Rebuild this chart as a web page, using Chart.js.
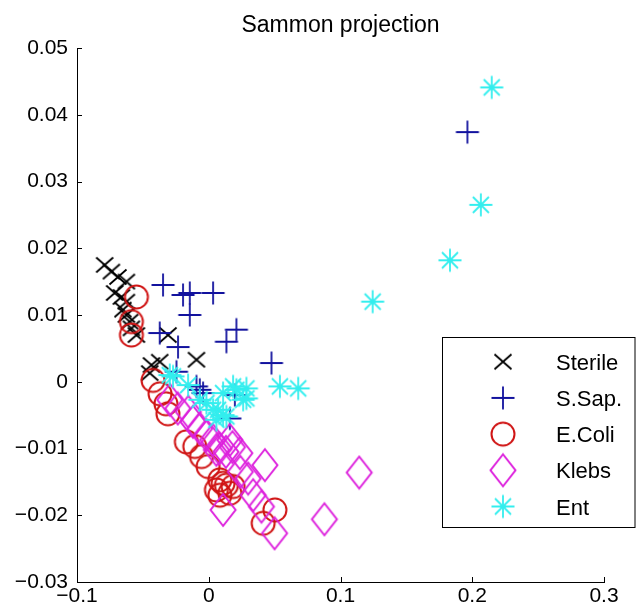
<!DOCTYPE html>
<html lang="en">
<head>
    <meta charset="UTF-8">
    <title>Sammon projection</title>
    <script src="https://cdn.jsdelivr.net/npm/chart.js@4.4.0/dist/chart.umd.min.js"></script>
    <style>
        body {
            margin: 0;
            background-color: #ffffff;
        }
        #chart {
            display: block;
        }
    </style>
</head>
<body>

<canvas id="chart" width="637" height="613"></canvas>

<script>
    // Series values
    var sterileX = [-0.0790, -0.0739, -0.0689, -0.0625, -0.0714, -0.0663, -0.0625, -0.0651, -0.0625, -0.0600, -0.0587, -0.0549, -0.0309, -0.0435, -0.0372, -0.0093, -0.0448];
    var sterileY = [0.0175, 0.0165, 0.0157, 0.0150, 0.0133, 0.0127, 0.0120, 0.0108, 0.0100, 0.0090, 0.0080, 0.0070, 0.0070, 0.0025, 0.0030, 0.0033, 0.0013];

    var ssapX = [-0.0347, -0.0195, -0.0144, 0.0033, -0.0144, -0.0372, -0.0233, 0.0210, 0.0134, 0.0476, -0.0245, -0.0068, -0.0043, 0.0198, 0.0160, -0.0093, 0.1963];
    var ssapY = [0.0145, 0.0130, 0.0133, 0.0133, 0.0100, 0.0073, 0.0052, 0.0078, 0.0060, 0.0028, 0.0015, -0.0012, -0.0017, -0.0020, -0.0055, -0.0007, 0.0374];

    var ecoliX = [-0.0549, -0.0587, -0.0587, -0.0423, -0.0370, -0.0325, -0.0310, -0.0170, -0.0106, -0.0055, -0.0005, 0.0084, 0.0058, 0.0134, 0.0185, 0.0084, 0.0160, 0.0109, 0.0502, 0.0413];
    var ecoliY = [0.0127, 0.0090, 0.0070, 0.0002, -0.0018, -0.0033, -0.0048, -0.0090, -0.0097, -0.0112, -0.0127, -0.0147, -0.0162, -0.0155, -0.0157, -0.0170, -0.0167, -0.0152, -0.0192, -0.0212];

    var klebsX = [-0.0296, -0.0235, -0.0155, -0.0120, -0.0068, -0.0018, 0.0030, 0.0058, 0.0080, 0.0130, 0.0160, 0.0180, 0.0236, 0.0240, 0.0299, 0.0337, 0.0400, 0.0500, 0.0109, 0.0426, 0.0878, 0.1142];
    var klebsY = [-0.0027, -0.0040, -0.0045, -0.0060, -0.0070, -0.0080, -0.0087, -0.0102, -0.0100, -0.0105, -0.0087, -0.0098, -0.0107, -0.0135, -0.0145, -0.0170, -0.0187, -0.0227, -0.0192, -0.0125, -0.0206, -0.0136];

    var entX = [0.2148, 0.2065, 0.1831, 0.1244, 0.0540, 0.0679, 0.0185, 0.0286, 0.0286, 0.0109, -0.0271, -0.0296, -0.0157, -0.0018, -0.0068, 0.0071, 0.0033, 0.0109, 0.0058, 0.0134, 0.0210, 0.0261];
    var entY = [0.0441, 0.0265, 0.0182, 0.0120, -0.0007, -0.0010, -0.0007, -0.0010, -0.0025, -0.0017, 0.0008, 0.0010, -0.0005, -0.0032, -0.0027, -0.0042, -0.0042, -0.0050, -0.0057, -0.0052, -0.0012, -0.0027];

    var seriesNames = ['Sterile', 'S.Sap.', 'E.Coli', 'Klebs', 'Ent'];

    var FONT = "'Liberation Sans', Arial, Helvetica, sans-serif";

    function toPoints(xs, ys) {
        return xs.map(function(x, i) { return {x: x, y: ys[i]}; });
    }

    // Small canvases used as point styles (and again in the legend)
    function makeMarker(type, color) {
        var c = document.createElement('canvas');
        var w = 30, h = 36;
        c.width = w;
        c.height = h;
        var g = c.getContext('2d');
        g.translate(w / 2, h / 2);
        g.strokeStyle = color;
        g.lineWidth = 1.8;
        g.beginPath();
        if (type === 'x') {
            g.moveTo(-8.5, -7.5); g.lineTo(8.5, 7.5);
            g.moveTo(-8.5, 7.5); g.lineTo(8.5, -7.5);
        } else if (type === 'plus') {
            g.moveTo(-11.5, 0); g.lineTo(11.5, 0);
            g.moveTo(0, -11.5); g.lineTo(0, 11.5);
        } else if (type === 'circle') {
            g.lineWidth = 2;
            g.arc(0, 0, 11.5, 0, Math.PI * 2);
        } else if (type === 'diamond') {
            g.lineWidth = 2;
            g.moveTo(0, -16); g.lineTo(12.5, 0); g.lineTo(0, 16); g.lineTo(-12.5, 0);
            g.closePath();
        } else if (type === 'star') {
            g.moveTo(-11.5, 0); g.lineTo(11.5, 0);
            g.moveTo(0, -11.5); g.lineTo(0, 11.5);
            g.moveTo(-8, -8); g.lineTo(8, 8);
            g.moveTo(-8, 8); g.lineTo(8, -8);
        }
        g.stroke();
        return c;
    }

    var markers = [
        makeMarker('x', '#000000'),
        makeMarker('plus', '#12129e'),
        makeMarker('circle', '#d01414'),
        makeMarker('diamond', '#dd22dd'),
        makeMarker('star', '#33eeee')
    ];

    function fmt(v, digits) {
        var r = Number(v.toFixed(digits));
        if (r === 0) return '0';
        return String(r).replace('-', '\u2212');
    }

    // Title, inward tick marks and the boxed legend
    var matlabLook = {
        id: 'matlabLook',
        afterDraw: function(chart) {
            var ctx = chart.ctx;
            var xs = chart.scales.x, ys = chart.scales.y;
            var area = chart.chartArea;
            ctx.save();

            ctx.strokeStyle = '#000';
            ctx.lineWidth = 1;
            ctx.beginPath();
            ys.ticks.forEach(function(t) {
                var py = Math.round(ys.getPixelForValue(t.value)) + 0.5;
                ctx.moveTo(area.left, py);
                ctx.lineTo(area.left + 5, py);
            });
            xs.ticks.forEach(function(t) {
                var px = Math.round(xs.getPixelForValue(t.value)) + 0.5;
                ctx.moveTo(px, area.bottom);
                ctx.lineTo(px, area.bottom - 5);
            });
            ctx.stroke();

            ctx.fillStyle = '#000';
            ctx.font = '23px ' + FONT;
            ctx.textAlign = 'center';
            ctx.textBaseline = 'alphabetic';
            ctx.fillText('Sammon projection', (area.left + area.right) / 2, 32);

            // legend
            ctx.fillStyle = '#fff';
            ctx.fillRect(442.5, 337.5, 192.5, 190);
            ctx.strokeStyle = '#000';
            ctx.strokeRect(442.5, 337.5, 192.5, 190);
            ctx.font = '22px ' + FONT;
            ctx.textAlign = 'left';
            ctx.fillStyle = '#000';
            seriesNames.forEach(function(name, i) {
                var cy = 361.7 + i * 36.2;
                var m = markers[i];
                ctx.drawImage(m, 503 - m.width / 2, cy - m.height / 2);
                ctx.fillText(name, 556, cy + 8);
            });
            ctx.restore();
        }
    };

    var ctx = document.getElementById('chart').getContext('2d');
    var chart = new Chart(ctx, {
        type: 'scatter',
        data: {
            datasets: [
                {label: seriesNames[0], data: toPoints(sterileX, sterileY), pointStyle: markers[0], order: 5},
                {label: seriesNames[1], data: toPoints(ssapX, ssapY), pointStyle: markers[1], order: 4},
                {label: seriesNames[2], data: toPoints(ecoliX, ecoliY), pointStyle: markers[2], order: 3},
                {label: seriesNames[3], data: toPoints(klebsX, klebsY), pointStyle: markers[3], order: 2},
                {label: seriesNames[4], data: toPoints(entX, entY), pointStyle: markers[4], order: 1}
            ]
        },
        options: {
            responsive: false,
            animation: false,
            devicePixelRatio: 1,
            layout: {
                padding: {top: 48, right: 33, left: 0, bottom: 0}
            },
            plugins: {
                legend: {display: false},
                tooltip: {enabled: false}
            },
            scales: {
                x: {
                    type: 'linear',
                    min: -0.1,
                    max: 0.3,
                    grid: {display: false, drawTicks: false},
                    border: {display: true, color: '#000', width: 1},
                    ticks: {
                        stepSize: 0.1,
                        padding: 2,
                        color: '#000',
                        font: {family: FONT, size: 21},
                        maxRotation: 0,
                        callback: function(v) { return fmt(v, 1); }
                    },
                    afterFit: function(scale) { scale.height = 31; }
                },
                y: {
                    type: 'linear',
                    min: -0.03,
                    max: 0.05,
                    grid: {display: false, drawTicks: false},
                    border: {display: true, color: '#000', width: 1},
                    ticks: {
                        stepSize: 0.01,
                        padding: 9,
                        color: '#000',
                        font: {family: FONT, size: 21},
                        callback: function(v) { return fmt(v, 2); }
                    },
                    afterFit: function(scale) { scale.width = 77; }
                }
            }
        },
        plugins: [matlabLook]
    });
</script>
</body>
</html>
